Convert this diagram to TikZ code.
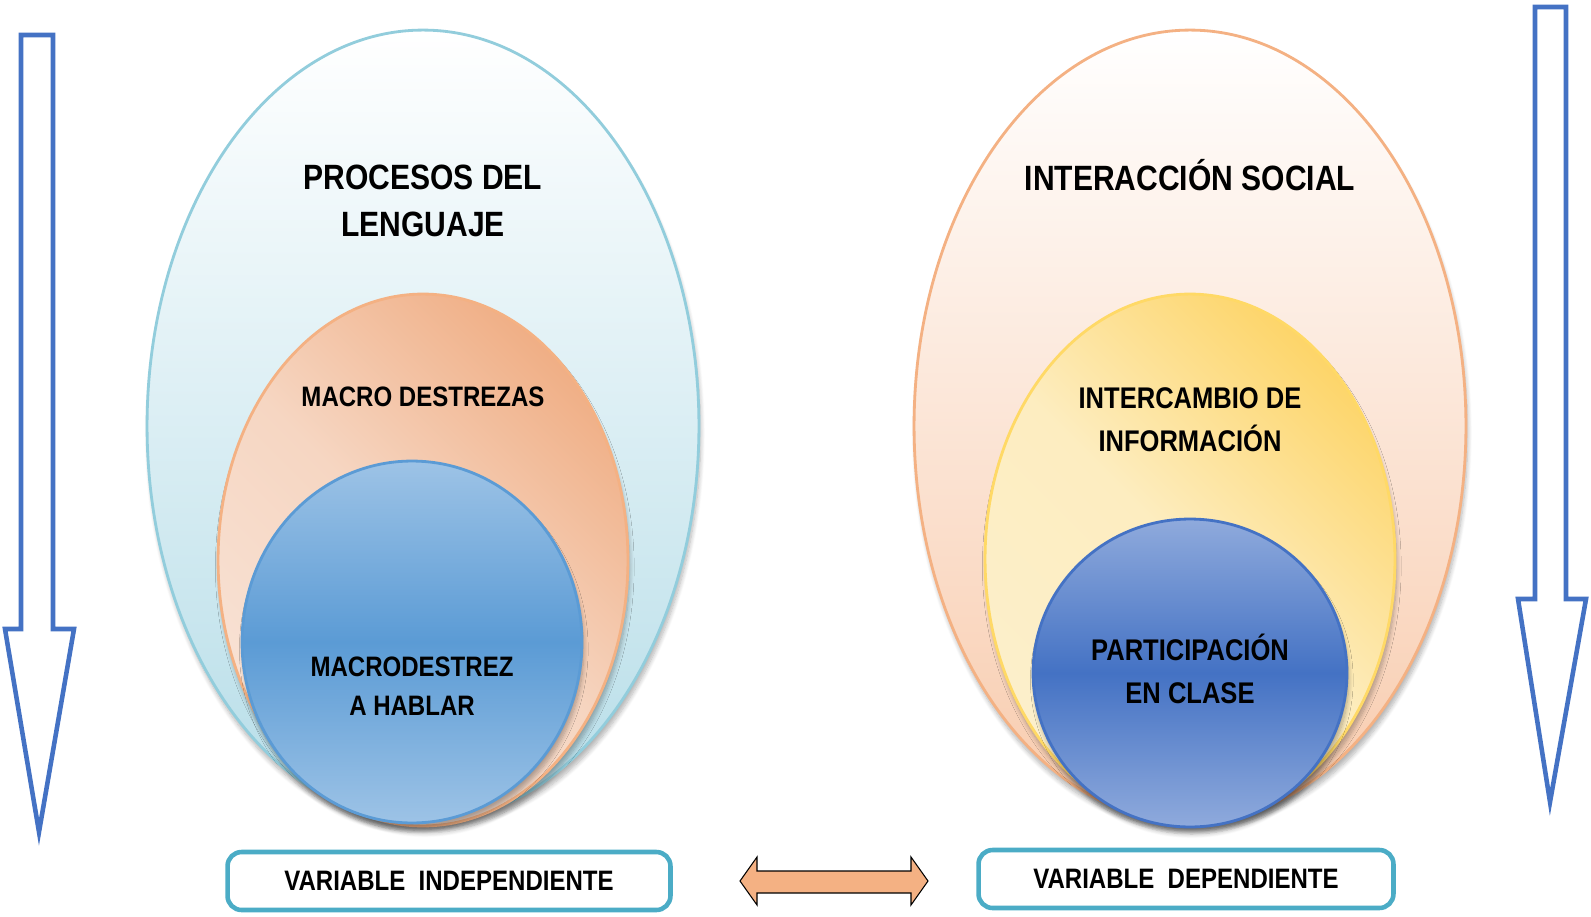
\documentclass[tikz,border=0pt]{standalone}
\usepackage{fontspec}
\setmainfont{Liberation Sans}[FakeStretch=0.855]
\usetikzlibrary{shapes.geometric, shadows.blur}
\definecolor{tealline}{HTML}{4BACC6}
\definecolor{skyline}{HTML}{92CDDC}
\definecolor{skydark}{HTML}{B6DDE8}
\definecolor{peach}{HTML}{F4B183}
\definecolor{peachlight}{HTML}{F8E2D5}
\definecolor{peachmid}{HTML}{F6D6C2}
\definecolor{peachdark}{HTML}{F0AF86}
\definecolor{rosebottom}{HTML}{F8CBAD}
\definecolor{goldline}{HTML}{FFD966}
\definecolor{goldmid}{HTML}{FDEDC0}
\definecolor{golddark}{HTML}{FDD56A}
\definecolor{goldlight}{HTML}{FCEFCB}
\definecolor{bluemid}{HTML}{5B9BD5}
\definecolor{bluelight}{HTML}{9DC3E6}
\definecolor{navymid}{HTML}{4472C4}
\definecolor{navylight}{HTML}{8FAADC}
\tikzset{
  oval/.style={ellipse, inner sep=0pt, line width=1.6pt,
    blur shadow={shadow xshift=1pt, shadow yshift=-4pt, shadow blur radius=2.5pt,
      shadow blur steps=8, shadow opacity=30}},
  bigtitle/.style={font=\bfseries\fontsize{20}{27.2}\selectfont, align=center},
  midtitle/.style={font=\bfseries\fontsize{17}{24.5}\selectfont, align=center},
  smalltitle/.style={font=\bfseries\fontsize{16}{21.9}\selectfont, align=center},
  varbox/.style={draw=tealline, line width=2.6pt, rounded corners=8pt, fill=white,
    minimum height=1.16cm, font=\bfseries\fontsize{16}{19}\selectfont},
  bigarrow/.style={draw=navymid, line width=2.6pt, line join=miter, fill=white}
}
\begin{document}
\begin{tikzpicture}[x=0.02cm, y=-0.02cm]
  \useasboundingbox (0, 0) rectangle (1591, 916);
  % Left ovals
  \node (LO) [oval, draw=skyline, top color=white, bottom color=skydark,
    minimum width=11.04cm, minimum height=15.84cm] at (423, 426) {};
  \node (LM) [oval, draw=peach, top color=peachdark, bottom color=peachlight,
    middle color=peachmid, shading angle=-45,
    minimum width=8.2cm, minimum height=10.64cm] at (423, 560) {};
  \node (LI) [oval, draw=bluemid, top color=bluelight, bottom color=bluelight,
    middle color=bluemid, minimum width=6.8cm, minimum height=7.24cm] at (412, 642) {};
  % Right ovals
  \node (RO) [oval, draw=peach, top color=white, bottom color=rosebottom,
    minimum width=11.04cm, minimum height=15.84cm] at (1190, 426) {};
  \node (RM) [oval, draw=goldline, top color=golddark, bottom color=goldlight,
    middle color=goldmid, shading angle=-45,
    minimum width=8.2cm, minimum height=10.6cm] at (1190, 559) {};
  \node (RI) [oval, draw=navymid, top color=navylight, bottom color=navylight,
    middle color=navymid, minimum width=6.28cm, minimum height=6.16cm] at (1190, 673) {};
  % Labels
  \node (lengtxt) [bigtitle] at (423, 201) {PROCESOS DEL\\LENGUAJE};
  \node (macrotxt) [smalltitle] at (423, 397) {MACRO DESTREZAS};
  \node (hablatxt) [smalltitle] at (412, 686) {MACRODESTREZ\\A HABLAR};
  \node (soctxt) [bigtitle] at (1190, 175) {INTERACCIÓN SOCIAL};
  \node (infotxt) [midtitle] at (1190, 420) {INTERCAMBIO DE\\INFORMACIÓN};
  \node (parttxt) [midtitle] at (1190, 669) {PARTICIPACIÓN\\EN CLASE};
  % Variables
  \node (VI) [varbox, minimum width=8.86cm] at (449, 881) {VARIABLE\ \ INDEPENDIENTE};
  \node (VD) [varbox, minimum width=8.3cm] at (1186, 879) {VARIABLE\ \ DEPENDIENTE};
  % Arrows
  \draw[bigarrow] (21, 35) -- (53, 35) -- (53, 629) -- (74, 629) -- (39, 832)
    -- (5, 629) -- (21, 629) -- cycle;
  \draw[bigarrow] (1535, 7) -- (1566, 7) -- (1566, 599) -- (1586, 599) -- (1550, 802)
    -- (1518, 599) -- (1535, 599) -- cycle;
  \draw[fill=peach, line width=0.6pt, line join=miter] (740, 881) -- (757, 857) -- (757, 871)
    -- (911, 871) -- (911, 857) -- (928, 881) -- (911, 905) -- (911, 893)
    -- (757, 893) -- (757, 905) -- cycle;
\end{tikzpicture}
\end{document}
